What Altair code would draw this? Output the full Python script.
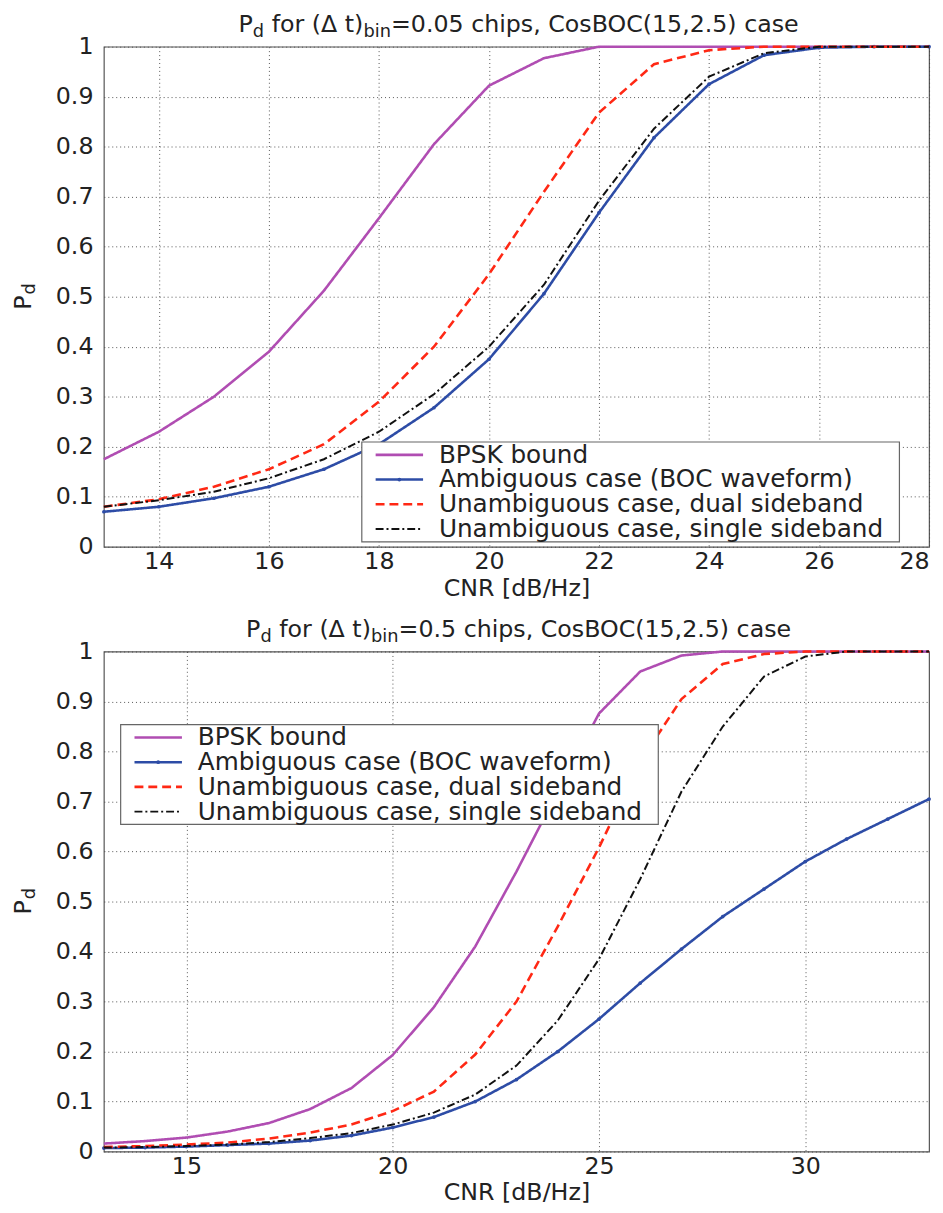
import altair as alt
import pandas as pd

FONT = "DejaVu Sans"
FS = 24
SUB = 18
LFS = 25

# ---------------- data ----------------
series_names = [
    "BPSK bound",
    "Ambiguous case (BOC waveform)",
    "Unambiguous case, dual sideband",
    "Unambiguous case, single sideband",
]

cnr_top = list(range(13, 29))
bpsk_top = [0.175, 0.23, 0.30, 0.39, 0.512, 0.657, 0.805, 0.922, 0.977, 1.0, 1.0, 1.0, 1.0, 1.0, 1.0, 1.0]
amb_top = [0.07, 0.08, 0.097, 0.12, 0.155, 0.205, 0.278, 0.375, 0.506, 0.668, 0.818, 0.925, 0.983, 0.998, 1.0, 1.0]
dual_top = [0.08, 0.095, 0.12, 0.155, 0.205, 0.29, 0.40, 0.545, 0.71, 0.868, 0.965, 0.993, 1.0, 1.0, 1.0, 1.0]
single_top = [0.08, 0.093, 0.11, 0.137, 0.175, 0.23, 0.305, 0.40, 0.524, 0.692, 0.836, 0.94, 0.987, 1.0, 1.0, 1.0]

cnr_bot = list(range(13, 34))
bpsk_bot = [0.016, 0.021, 0.028, 0.04, 0.057, 0.085, 0.127, 0.193, 0.289, 0.41, 0.56, 0.72, 0.876, 0.96, 0.992, 1.0, 1.0, 1.0, 1.0, 1.0, 1.0]
amb_bot = [0.007, 0.008, 0.01, 0.013, 0.016, 0.022, 0.032, 0.048, 0.069, 0.10, 0.144, 0.20, 0.265, 0.337, 0.405, 0.47, 0.525, 0.58, 0.625, 0.665, 0.705]
dual_bot = [0.009, 0.011, 0.014, 0.018, 0.026, 0.038, 0.054, 0.081, 0.12, 0.194, 0.30, 0.45, 0.608, 0.78, 0.905, 0.975, 0.995, 1.0, 1.0, 1.0, 1.0]
single_bot = [0.008, 0.009, 0.011, 0.014, 0.019, 0.027, 0.037, 0.054, 0.078, 0.114, 0.172, 0.262, 0.385, 0.545, 0.72, 0.85, 0.95, 0.99, 1.0, 1.0, 1.0]

y_ticks = [0, 0.1, 0.2, 0.3, 0.4, 0.5, 0.6, 0.7, 0.8, 0.9, 1]
x_ticks_top = [14, 16, 18, 20, 22, 24, 26, 28]
x_ticks_bot = [15, 20, 25, 30]

title_top = ["P", "d", " for (\u0394 t)", "bin", "=0.05 chips, CosBOC(15,2.5) case"]
title_bot = ["P", "d", " for (\u0394 t)", "bin", "=0.5 chips, CosBOC(15,2.5) case"]

# ---------------- style ----------------
colors = ["#b04db2", "#2d4ca6", "#ff2814", "#111111"]
dashes = [[1, 0], [1, 0], [9, 5], [8, 3, 2, 3]]
widths = [2.6, 2.6, 2.6, 2.0]

W, H = 835, 506

# DejaVu Sans advance widths (em)
CW = {" ": .318, "(": .390, ")": .390, ",": .318, ".": .318, "=": .838,
      "0": .636, "1": .636, "2": .636, "5": .636, "B": .686, "C": .698,
      "O": .787, "P": .603, "\u0394": .686, "a": .613, "b": .635, "c": .550,
      "d": .635, "e": .615, "f": .352, "h": .634, "i": .278, "n": .634,
      "o": .612, "p": .635, "r": .411, "s": .521, "t": .392}


def tw(s, size):
    return sum(CW.get(c, 0.6) for c in s) * size


one = pd.DataFrame({"k": [0]})


def panel(cnr, series, xdom, xticks, title_parts, leg_left, leg_top):
    rows = []
    for name, vals in zip(series_names, series):
        for c, v in zip(cnr, vals):
            rows.append({"cnr": c, "pd": v, "series": name})
    df = pd.DataFrame(rows)

    xenc = alt.X("cnr:Q", scale=alt.Scale(domain=xdom, nice=False, zero=False),
                 axis=alt.Axis(values=xticks, title="CNR [dB/Hz]", labelFlush=True,
                               labelPadding=3, titlePadding=3))
    yenc = alt.Y("pd:Q", scale=alt.Scale(domain=[0, 1], nice=False),
                 axis=alt.Axis(values=y_ticks, format="~g", title=None, labelPadding=11))

    layers = []
    for i, name in enumerate(series_names):
        base = alt.Chart(df).transform_filter(alt.datum.series == name)
        layers.append(base.mark_line(color=colors[i], strokeDash=dashes[i],
                                     strokeWidth=widths[i]).encode(x=xenc, y=yenc))
        if i == 1:
            layers.append(base.mark_point(filled=True, size=14, color=colors[i],
                                          opacity=1).encode(x=xenc, y=yenc))

    # legend box
    lw, lh = 544, 101
    layers.append(alt.Chart(one).mark_rect(fill="white", stroke="#666", strokeWidth=1.2).encode(
        x=alt.value(leg_left), x2=alt.value(leg_left + lw),
        y=alt.value(leg_top), y2=alt.value(leg_top + lh)))
    for i, name in enumerate(series_names):
        ry = leg_top + 13 + 25 * i
        layers.append(alt.Chart(one).mark_rule(color=colors[i], strokeDash=dashes[i],
                                               strokeWidth=widths[i]).encode(
            x=alt.value(leg_left + 14), x2=alt.value(leg_left + 62), y=alt.value(ry)))
        if i == 1:
            layers.append(alt.Chart(one).mark_point(filled=True, size=14, color=colors[i],
                                                    opacity=1).encode(
                x=alt.value(leg_left + 38), y=alt.value(ry)))
        layers.append(alt.Chart(one).mark_text(text=name, font=FONT, fontSize=LFS, align="left",
                                               baseline="middle", color="#222").encode(
            x=alt.value(leg_left + 78), y=alt.value(ry)))

    # title with subscripts (leading spaces turned into offsets)
    sizes = [FS, SUB, FS, SUB, FS]
    total = sum(tw(p, s) for p, s in zip(title_parts, sizes))
    xpos = 420 - total / 2
    for p, s in zip(title_parts, sizes):
        stripped = p.lstrip(" ")
        lead = tw(p[: len(p) - len(stripped)], s)
        layers.append(alt.Chart(one).mark_text(text=stripped, font=FONT, fontSize=s, align="left",
                                               baseline="alphabetic", color="#222").encode(
            x=alt.value(xpos + lead), y=alt.value(-15 if s == FS else -10)))
        xpos += tw(p, s)

    # y-axis title P_d
    layers.append(alt.Chart(one).mark_text(text="P", font=FONT, fontSize=FS, angle=270,
                                           align="center", baseline="middle", color="#222").encode(
        x=alt.value(-81), y=alt.value(H / 2 + 6)))
    layers.append(alt.Chart(one).mark_text(text="d", font=FONT, fontSize=SUB, angle=270,
                                           align="center", baseline="middle", color="#222").encode(
        x=alt.value(-75), y=alt.value(H / 2 - 8)))

    return alt.layer(*layers).properties(width=W, height=H)


top = panel(cnr_top, [bpsk_top, amb_top, dual_top, single_top], [13, 28], x_ticks_top,
            title_top, 261, 400)
bot = panel(cnr_bot, [bpsk_bot, amb_bot, dual_bot, single_bot], [13, 33], x_ticks_bot,
            title_bot, 17, 74)

chart = alt.vconcat(top, bot, spacing=16).properties(
    padding={"left": 3, "top": -3, "right": 0, "bottom": 0}
).configure_view(stroke="#555", strokeWidth=1.2).configure_axis(
    labelFont=FONT, labelFontSize=FS, labelColor="#222",
    titleFont=FONT, titleFontSize=FS, titleFontWeight="normal", titleColor="#222",
    grid=True, gridColor="#444", gridDash=[1, 3], gridWidth=1, gridOpacity=0.9,
    domain=False, ticks=False,
)

chart.save("out.html", embed_options={"renderer": "svg", "actions": False})
